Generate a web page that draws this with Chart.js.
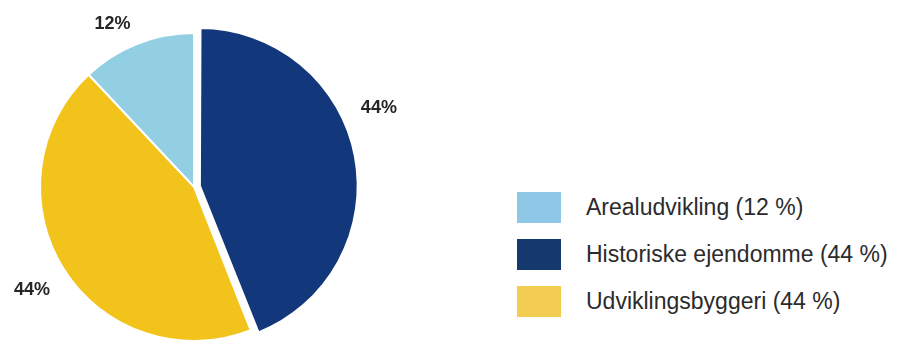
<!DOCTYPE html>
<html>
<head>
<meta charset="utf-8">
<script src="https://cdn.jsdelivr.net/npm/chart.js@4.4.1/dist/chart.umd.min.js"></script>
<style>
    html, body { margin: 0; padding: 0; background: #fff; overflow: hidden; width: 899px; height: 344px; }
    #wrap { position: absolute; left: 0; top: 0; width: 420px; height: 370px; }
    #legend { position: absolute; left: 517px; top: 184px; font-family: "Liberation Sans", Arial, sans-serif; font-size: 23px; color: #2b2b2b; }
    .row { display: flex; align-items: center; height: 47px; }
    .box { width: 44px; height: 31px; margin-right: 25px; }
</style>
</head>
<body>
<div id="wrap"><canvas id="pieChart"></canvas></div>
<div id="legend"></div>
<script>
const categories = ['Arealudvikling', 'Historiske ejendomme', 'Udviklingsbyggeri'];
const shares = [12, 44, 44];
const colors = ['#93cfe3', '#12377a', '#f2c31b'];
const legendColors = ['#8fc8e6', '#15386f', '#f5cc52'];

// procent-etiketter uden for kagen
const outsideLabels = {
    id: 'outsideLabels',
    afterDatasetsDraw(chart, args, opts) {
        const ctx = chart.ctx;
        const meta = chart.getDatasetMeta(0);
        ctx.save();
        ctx.font = 'bold 18px "Liberation Sans", Arial, sans-serif';
        ctx.fillStyle = '#262626';
        ctx.textAlign = 'center';
        ctx.textBaseline = 'middle';
        meta.data.forEach((arc, i) => {
            const p = arc.getProps(['x', 'y', 'startAngle', 'endAngle', 'outerRadius']);
            const mid = (p.startAngle + p.endAngle) / 2 + (opts.shift[i] || 0) * Math.PI / 180;
            const r = p.outerRadius + opts.gap[i];
            ctx.fillText(shares[i] + '%', p.x + Math.cos(mid) * r, p.y + Math.sin(mid) * r);
        });
        ctx.restore();
    }
};

new Chart(document.getElementById('pieChart'), {
    type: 'pie',
    data: {
        labels: categories,
        datasets: [{
            data: shares,
            backgroundColor: colors,
            borderColor: '#fff',
            borderWidth: 2,
            offset: [0, 24, 0]
        }]
    },
    options: {
        responsive: true,
        maintainAspectRatio: false,
        animation: false,
        rotation: -43.2,
        layout: { padding: { left: 27, top: 20, right: 59, bottom: 16 } },
        plugins: {
            legend: { display: false },
            tooltip: { enabled: false },
            outsideLabels: { shift: [-5, -12.3, 0], gap: [28, 47, 38] }
        }
    },
    plugins: [outsideLabels]
});

document.getElementById('legend').innerHTML = categories.map((c, i) => `
    <div class="row"><div class="box" style="background:${legendColors[i]}"></div><span>${c} (${shares[i]} %)</span></div>
`).join('');
</script>
</body>
</html>
